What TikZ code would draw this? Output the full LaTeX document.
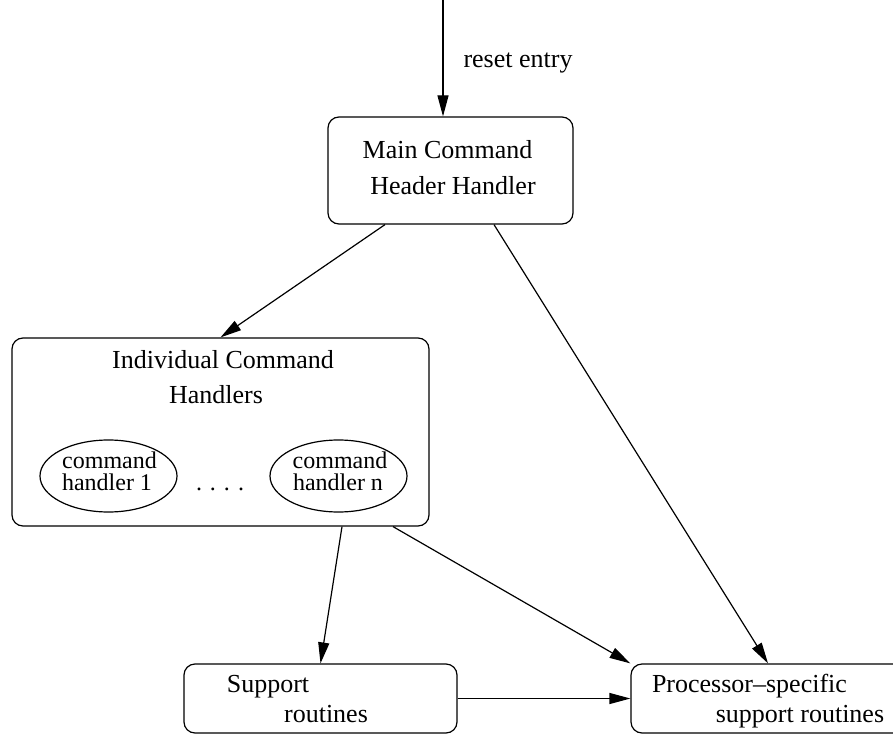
\documentclass[tikz,border=0pt]{standalone}
\usepackage{fontspec}
\setmainfont{Liberation Serif}
\usetikzlibrary{shapes.geometric,arrows.meta}
\begin{document}
\begin{tikzpicture}[x=1pt,y=-1pt,
  box/.style={draw,line width=1.2pt,rounded corners=11pt,inner sep=0pt},
  oval/.style={draw,ellipse,line width=1.2pt,inner sep=0pt},
  lbl/.style={anchor=base,inner sep=0pt,font=\fontsize{26}{30}\selectfont},
  slbl/.style={anchor=base,inner sep=0pt,font=\fontsize{24}{26}\selectfont},
  conn/.style={line width=1.2pt,-{Triangle[length=21pt,width=11pt]}}]
\useasboundingbox (0,0) rectangle (893,735);
% boxes
\node[box,minimum width=245pt,minimum height=107pt] (main) at (450.5,170.5) {};
\node[box,minimum width=417pt,minimum height=188pt] (ind) at (220.5,432) {};
\node[oval,minimum width=137pt,minimum height=72pt] (h1) at (108.5,476) {};
\node[oval,minimum width=137pt,minimum height=72pt] (hn) at (338.5,476) {};
\node[box,minimum width=273pt,minimum height=69pt] (supp) at (320.5,698.5) {};
\node[box,minimum width=274pt,minimum height=69pt] (proc) at (768,698.5) {};
% texts
\node[lbl] (t0) at (518,68) {reset entry};
\node[lbl] (t1) at (447.5,159) {Main Command};
\node[lbl] (t2) at (453,195) {Header Handler};
\node[lbl] (t3) at (223,368) {Individual Command};
\node[lbl] (t4) at (216,403) {Handlers};
\node[slbl] (t5) at (109.5,468) {command};
\node[slbl] (t6) at (107,490) {handler 1};
\node[slbl] (t7) at (340,468) {command};
\node[slbl] (t8) at (338,490) {handler n};
\node[slbl] (dots) at (220,490) {. . . .};
\node[lbl] (t9) at (268,692) {Support};
\node[lbl] (t10) at (326,722) {routines};
\node[lbl] (t11) at (749.5,692) {Processor–specific};
\node[lbl] (t12) at (800,722) {support routines};
% connectors
\coordinate (entry) at (443,0);
\draw[conn] (entry) -- ([xshift=-7.5pt]main.north);
\draw[conn] ([xshift=-65.5pt]main.south) -- (ind.north);
\draw[conn] ([xshift=43.5pt]main.south) -- (proc.north);
\draw[conn] ([xshift=121.5pt]ind.south) -- (supp.north);
\draw[conn] ([xshift=172.5pt]ind.south) -- (proc.north west);
\draw[conn] (supp.east) -- (proc.west);
\end{tikzpicture}
\end{document}
